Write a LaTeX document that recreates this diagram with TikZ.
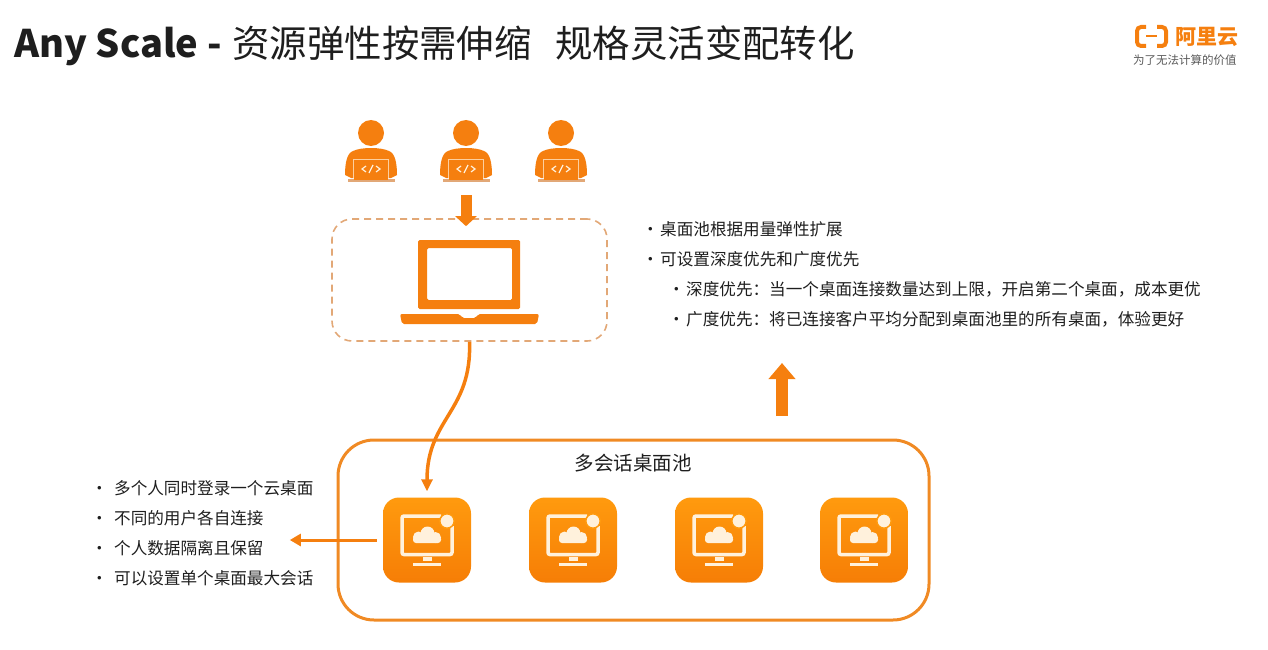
\documentclass[tikz,border=0pt]{standalone}
\usepackage{fontspec}
\setmainfont{Noto Sans CJK SC}
\usetikzlibrary{arrows.meta,calc}
\definecolor{org}{HTML}{F57F0F}
\definecolor{orgline}{HTML}{F08A24}
\definecolor{dashc}{HTML}{E2A877}
\definecolor{tiletop}{HTML}{FF9A0E}
\definecolor{tilebot}{HTML}{F67E06}
\definecolor{ink}{HTML}{1E1E1E}
\definecolor{iconw}{HTML}{FFF1DC}
\tikzset{
  txt/.style={anchor=west,inner sep=0pt,text=ink,font=\fontsize{16.6}{20}\selectfont},
  tile/.style={minimum width=88pt,minimum height=85pt,inner sep=0pt,rounded corners=16pt,top color=tiletop,bottom color=tilebot,draw=none},
  holder/.style={inner sep=0pt,minimum width=52pt,minimum height=50pt},
  pics/person/.style={code={
    \fill[org] (0,-24) circle (13);
    \fill[org] (-26,18) .. controls (-26,6) and (-24,-4) .. (-18,-6) .. controls (-10,-10) and (10,-10) .. (18,-6) .. controls (24,-4) and (26,6) .. (26,18) -- (20,21) -- (-20,21) -- cycle;
    \draw[iconw!70!org,line width=1pt] (-17.5,21) -- (-17.5,2) -- (17.5,2) -- (17.5,21);
    \fill[dashc] (-23.5,21.5) rectangle (23.5,24.5);
    \fill[org] (-17,21) rectangle (17,22.5);
    \draw[iconw,line width=1.2pt] (-5,9) -- (-9,12) -- (-5,15) (5,9) -- (9,12) -- (5,15) (2,8) -- (-2,16);
  }},
  pics/monitor/.style={code={
    \draw[iconw,line width=3.5pt,rounded corners=2pt] (14,-24) -- (-25,-24) -- (-25,14.5) -- (25,14.5) -- (25,-14);
    \fill[iconw] (-4.5,17) rectangle (4.5,21);
    \fill[iconw] (-14,23) rectangle (14,26);
    \fill[iconw] (-8.5,-3) circle (5.5);
    \fill[iconw] (0.5,-6.5) circle (7);
    \fill[iconw] (8.5,-2.5) circle (5.5);
    \fill[iconw,rounded corners=3pt] (-14,-4) rectangle (14,3);
    \fill[iconw,draw=tiletop,line width=1.5pt] (20,-19) circle (7.2);
  }},
}
\begin{document}
\begin{tikzpicture}[x=1pt,y=-1pt]
\useasboundingbox (0,0) rectangle (1268,650);
% title
\node[anchor=west,inner sep=0pt,text=ink] (title) at (14,46) {{\fontsize{38}{42}\selectfont\bfseries Any Scale - }\hspace{2pt}{\fontsize{37.4}{42}\selectfont 资源弹性按需伸缩\hspace{24pt}规格灵活变配转化}};
% logo
\draw[org,line width=4pt,rounded corners=4pt] (1146,27) -- (1137,27) -- (1137,46) -- (1146,46);
\draw[org,line width=4pt,rounded corners=4pt] (1157,27) -- (1166,27) -- (1166,46) -- (1157,46);
\draw[org,line width=2pt] (1146,36.5) -- (1157,36.5);
\node[anchor=west,inner sep=0pt,text=org,font=\fontsize{21}{24}\selectfont\bfseries] (logotext) at (1175,37) {阿里云};
\node[anchor=west,inner sep=0pt,text=black!65,font=\fontsize{11.5}{13}\selectfont] (slogan) at (1133,60) {为了无法计算的价值};
% people
\node[holder] (p1) at (371,157) {};
\node[holder] (p2) at (466,157) {};
\node[holder] (p3) at (561,157) {};
\pic at (p1.center) {person};
\pic at (p2.center) {person};
\pic at (p3.center) {person};
% laptop box
\node[draw=dashc,dashed,dash pattern=on 7pt off 5pt,line width=1.6pt,rounded corners=20pt,minimum width=275pt,minimum height=122pt,inner sep=0pt] (box) at (469.5,280) {};
\fill[org,rounded corners=1.5pt,even odd rule] (418,240) rectangle (520,309) (427,248) rectangle (512,300);
\fill[org,rounded corners=2pt] (400,314) -- (460,314) -- (462,318) -- (476,318) -- (478,314) -- (539,314) -- (537,324) -- (402,324) -- cycle;
% pool
\node[draw=orgline,line width=3pt,rounded corners=36pt,minimum width=591pt,minimum height=180pt,inner sep=0pt] (pool) at (633.5,530) {};
\node[inner sep=0pt,text=ink,font=\fontsize{19.5}{22}\selectfont] (poolname) at (633,463) {多会话桌面池};
\node[tile] (t1) at (427,540) {};
\node[tile] (t2) at (573,540) {};
\node[tile] (t3) at (719,540) {};
\node[tile] (t4) at (864,540) {};
\pic at (t1.center) {monitor};
\pic at (t2.center) {monitor};
\pic at (t3.center) {monitor};
\pic at (t4.center) {monitor};
% lists
\node[txt] (r1) at (642,229) {\makebox[18pt][l]{•}桌面池根据用量弹性扩展};
\node[txt] (r2) at (642,259) {\makebox[18pt][l]{•}可设置深度优先和广度优先};
\node[txt] (r3) at (668,289) {\makebox[18pt][l]{•}深度优先：当一个桌面连接数量达到上限，开启第二个桌面，成本更优};
\node[txt] (r4) at (668,319) {\makebox[18pt][l]{•}广度优先：将已连接客户平均分配到桌面池里的所有桌面，体验更好};
\node[txt] (l1) at (91,488) {\makebox[23pt][l]{•}多个人同时登录一个云桌面};
\node[txt] (l2) at (91,518) {\makebox[23pt][l]{•}不同的用户各自连接};
\node[txt] (l3) at (91,548) {\makebox[23pt][l]{•}个人数据隔离且保留};
\node[txt] (l4) at (91,578) {\makebox[23pt][l]{•}可以设置单个桌面最大会话};
% connectors
\draw[org,line width=11pt,-{Triangle[length=10pt,width=21pt]},shorten <=13pt,shorten >=-8pt] (p2.south) -- (p2.south |- box.north);
\draw[org,line width=3.5pt,-{Triangle[length=12pt,width=11pt]},shorten >=6pt] (box.south) .. controls (472,412) and (427,418) .. (t1.north);
\draw[org,line width=3pt,-{Triangle[length=11pt,width=12pt]},shorten <=6pt,shorten >=26pt] (t1.west) -- (l3.east |- t1.west);
\coordinate (ub) at (782,416);
\coordinate (ut) at (782,363);
\draw[org,line width=12pt,-{Triangle[length=16pt,width=26pt]}] (ub) -- (ut);
\end{tikzpicture}
\end{document}
